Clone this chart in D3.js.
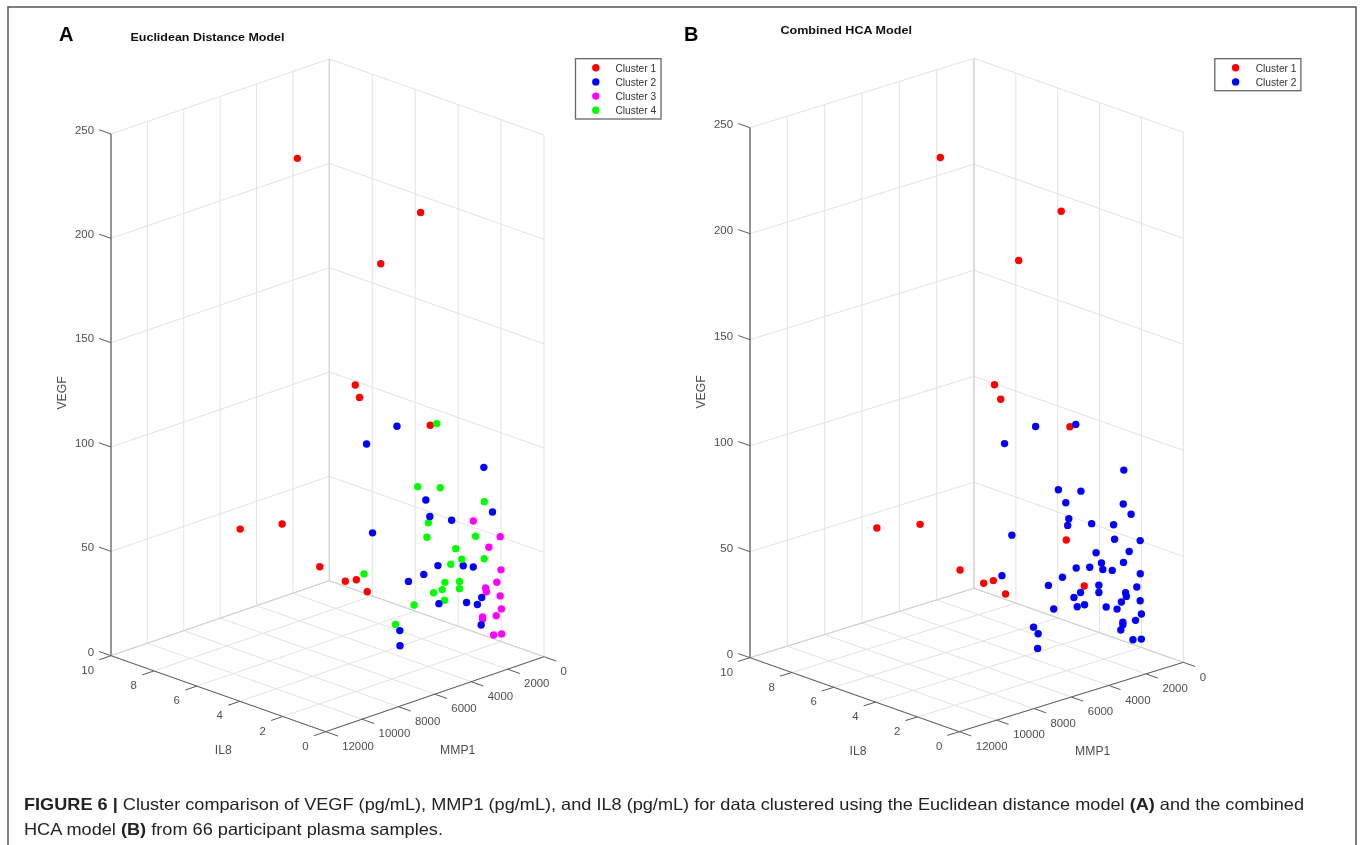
<!DOCTYPE html>
<html>
<head>
<meta charset="utf-8">
<script src="https://cdn.jsdelivr.net/npm/d3@7"></script>
<style>
html,body{margin:0;padding:0;background:#fff}
svg{display:block}
text{font-family:"Liberation Sans",Arial,sans-serif}
</style>
</head>
<body>
<svg id="chart" width="1362" height="845"></svg>
<script>
// ---- data: one row per participant sample (same 66 samples in both panels)
const mmp1 = [2700,1920,5880,5170,2920,2700,11000,8460,4950,6400,7540,5810,
  4660,6190,900,2460,2100,3420,1760,4610,3920,1810,2260,3940,2930,1310,3900,1720,1430,1330,4940,5650,
  3240,1960,1360,1960,3100,3140,2190,1300,1850,1600,2860,6260,2660,2270,3800,2270,1890,1960,3130,5410,
  830,460,410,1150,550,850,840,460,430,1280,580,580,1350,780];
const il8 = [9.2,4.12,2.62,4.41,6.12,3.01,4.83,5.03,6.25,3.83,2.35,3.31,
  2.9,3.02,2.04,3.42,0.62,2.42,2.81,4.08,1.62,2.23,1.38,2.26,3.83,1.79,1.59,2.15,1.89,1.8,2.53,1.92,
  2.25,4.22,3.68,1.12,2.76,2.79,1.33,3.01,2.26,1.43,1.92,3.08,2.36,2.01,1.52,2.01,3.54,2.97,3.4,2.33,
  2.59,1.65,2.22,1.03,1.73,2,1.97,1.65,1.62,1.14,2.37,2.37,1.2,1.31];
const vegf = [213.4,203.6,196.4,129.6,110.7,108,76.5,70.6,35.2,41.4,50.9,36.5,
  113.8,109.5,86,70,73.4,68.6,60.4,58.3,49.5,40.9,44.7,43,30.9,25.8,31.3,23.3,22.4,12.6,18.1,15.2,
  113.2,72,71.6,76.1,63.4,56.5,59.4,44.7,44,46.5,45.9,47.2,35,35.5,38,32.1,23.4,22.1,21.8,23.2,
  58.1,52.9,45.6,41.3,31,28.2,26.5,24.5,18.3,19.3,12.2,11,10.1,8.5];
const clusterA = [1,1,1,1,1,1,1,1,1,1,1,1,
  2,2,2,2,2,2,2,2,2,2,2,2,2,2,2,2,2,2,2,2,
  4,4,4,4,4,4,4,4,4,4,4,4,4,4,4,4,4,4,4,4,
  3,3,3,3,3,3,3,3,3,3,3,3,3,3];
const clusterB = [1,1,1,1,1,1,1,1,1,1,1,1,
  2,2,2,2,2,2,2,2,2,2,2,2,2,2,2,2,2,2,2,2,
  2,2,2,2,2,1,2,2,2,2,2,2,1,2,2,2,2,2,2,2,
  2,2,2,2,2,2,2,2,2,2,2,2,2,2];
const mmpTicks = [0,2000,4000,6000,8000,10000,12000];
const il8Ticks = [0,2,4,6,8,10];
const vegfTicks = [0,50,100,150,200,250];
const clusterColors = {1:"#ff0000",2:"#0000ff",3:"#ff00ff",4:"#00ff00"};

// ---- layout of each panel (pixel geometry of the 3-D box)
const panels = [
 {letter:"A",letterX:59,title:"Euclidean Distance Model",titleX:130.5,titleY:40.5,titleW:154,cluster:clusterA,legendN:[1,2,3,4],
  right:[544,656.7],bottom:[325.7,731.7],left:[111,655.7],h:521.7,
  lg:{x:575.5,y:58.7,w:85.5,h:60.3,mx:595.8,tx:615.4},il8Label:[223.3,753.5],mmpLabel:[457.7,753.5],vegfLabel:[62,393]},
 {letter:"B",letterX:684,title:"Combined HCA Model",titleX:780.4,titleY:33.7,titleW:131.5,cluster:clusterB,legendN:[1,2],
  right:[1183.3,662.3],bottom:[959.3,731.7],left:[750,657.7],h:530,
  lg:{x:1214.8,y:58.7,w:86.1,h:32,mx:1235.6,tx:1255.7},il8Label:[858,754.5],mmpLabel:[1092.7,755],vegfLabel:[701,392]}
];

const page = d3.select("#chart");
page.append("defs").append("filter").attr("id","soft")
  .attr("filterUnits","userSpaceOnUse").attr("x",0).attr("y",0).attr("width",1362).attr("height",845)
  .attr("color-interpolation-filters","sRGB")
  .append("feGaussianBlur").attr("stdDeviation",0.4);
const svg = page.append("g").attr("filter","url(#soft)");
svg.append("rect").attr("width",1362).attr("height",845).attr("fill","#fff");
const grid = "#e3e3e3", axisC = "#5a5a5a", textC = "#4f4f4f";

// outer frame
svg.append("path").attr("d","M8,850V7H1356V850").attr("fill","none").attr("stroke","#555").attr("stroke-width",1.5);

panels.forEach(p=>{
  const g = svg.append("g");
  const mX = d3.scaleLinear([0,12000],[0,p.bottom[0]-p.right[0]]);
  const mY = d3.scaleLinear([0,12000],[0,p.bottom[1]-p.right[1]]);
  const iX = d3.scaleLinear([0,10],[0,p.left[0]-p.bottom[0]]);
  const iY = d3.scaleLinear([0,10],[0,p.left[1]-p.bottom[1]]);
  const vY = d3.scaleLinear([0,250],[0,-p.h]);
  const pr = (m,i,v)=>[p.right[0]+mX(m)+iX(i), p.right[1]+mY(m)+iY(i)+vY(v)];
  const line = (a,b,c,w=1)=>g.append("line").attr("x1",a[0]).attr("y1",a[1]).attr("x2",b[0]).attr("y2",b[1]).attr("stroke",c).attr("stroke-width",w);
  const M=12000,I=10,V=250;

  // grid: floor and two back walls
  mmpTicks.forEach(m=>{
    line(pr(m,0,0),pr(m,I,0),grid);
    line(pr(m,I,0),pr(m,I,V),grid);
  });
  il8Ticks.forEach(i=>{
    line(pr(0,i,0),pr(M,i,0),grid);
    line(pr(0,i,0),pr(0,i,V),grid);
  });
  vegfTicks.forEach(v=>{
    line(pr(M,I,v),pr(0,I,v),grid);
    line(pr(0,I,v),pr(0,0,v),grid);
  });
  line(pr(0,I,0),pr(0,I,V),"#d0d0d0");
  line(pr(0,I,0),pr(M,I,0),"#d0d0d0");
  line(pr(0,I,0),pr(0,0,0),"#d0d0d0");

  // axes
  line(pr(M,0,0),pr(0,0,0),axisC);
  line(pr(M,0,0),pr(M,I,0),axisC);
  line(pr(M,I,0),pr(M,I,V),axisC,1.2);

  // ticks
  mmpTicks.forEach(m=>{ line(pr(m,0,0),pr(m,-0.57,0),axisC); });
  il8Ticks.forEach(i=>{ line(pr(M,i,0),pr(M+640,i,0),axisC); });
  vegfTicks.forEach(v=>{ line(pr(M,I,v),pr(M,I+0.56,v),axisC); });

  const txt = (x,y,s,anchor,size=11.4,fill=textC)=>g.append("text").attr("x",x).attr("y",y).attr("text-anchor",anchor).attr("font-size",size).attr("fill",fill).text(s);
  mmpTicks.forEach(m=>{ const q=pr(m,0,0); txt(q[0]+16.5,q[1]+18.2,m,"start"); });
  il8Ticks.forEach(i=>{ const q=pr(M,i,0); txt(q[0]-17,q[1]+18,i,"end"); });
  vegfTicks.forEach(v=>{ const q=pr(M,I,v); txt(q[0]-17,q[1]-0.2,v,"end"); });

  // axis titles
  txt(p.il8Label[0],p.il8Label[1],"IL8","middle",12.2);
  txt(p.mmpLabel[0],p.mmpLabel[1],"MMP1","middle",12.2);
  g.append("text").attr("transform",`translate(${p.vegfLabel[0]+4},${p.vegfLabel[1]}) rotate(-90)`).attr("text-anchor","middle").attr("font-size",12.2).attr("fill",textC).text("VEGF");

  // title and panel letter
  g.append("text").attr("x",p.titleX).attr("y",p.titleY).attr("font-size",11.5).attr("font-weight","bold").attr("fill","#111").attr("textLength",p.titleW).attr("lengthAdjust","spacingAndGlyphs").text(p.title);
  g.append("text").attr("x",p.letterX).attr("y",40.7).attr("font-size",20).attr("font-weight","bold").attr("fill","#000").text(p.letter);

  // points, far to near
  const rows = d3.range(mmp1.length).map(k=>({m:mmp1[k],i:il8[k],v:vegf[k],c:p.cluster[k]}))
    .sort((a,b)=>d3.ascending(a.m/M-a.i/I,b.m/M-b.i/I));
  g.append("g").selectAll("circle").data(rows).join("circle")
    .attr("cx",d=>pr(d.m,d.i,d.v)[0]).attr("cy",d=>pr(d.m,d.i,d.v)[1]).attr("r",3.7)
    .attr("fill",d=>clusterColors[d.c]);

  // legend
  const l=p.lg;
  g.append("rect").attr("x",l.x).attr("y",l.y).attr("width",l.w).attr("height",l.h).attr("fill","#fff").attr("stroke","#666").attr("stroke-width",1.3);
  const lg=g.append("g").selectAll("g").data(p.legendN).join("g");
  lg.append("circle").attr("cx",l.mx).attr("cy",(d,k)=>l.y+9+k*14.2).attr("r",3.7).attr("fill",d=>clusterColors[d]);
  lg.append("text").attr("x",l.tx).attr("y",(d,k)=>l.y+12.8+k*14.2).attr("font-size",10.2).attr("fill","#333").text(d=>"Cluster "+d);
});

// caption
const cap = svg.append("g").attr("fill","#222").attr("font-size",16.5);
const l1 = cap.append("text").attr("x",24).attr("y",810).attr("textLength",1280).attr("lengthAdjust","spacingAndGlyphs");
[["FIGURE 6 | ",1],["Cluster comparison of VEGF (pg/mL), MMP1 (pg/mL), and IL8 (pg/mL) for data clustered using the Euclidean distance model ",0],["(A)",1],[" and the combined",0]]
 .forEach(s=>l1.append("tspan").attr("font-weight",s[1]?"bold":"normal").text(s[0]));
const l2 = cap.append("text").attr("x",24).attr("y",835).attr("textLength",419).attr("lengthAdjust","spacingAndGlyphs");
[["HCA model ",0],["(B)",1],[" from 66 participant plasma samples.",0]]
 .forEach(s=>l2.append("tspan").attr("font-weight",s[1]?"bold":"normal").text(s[0]));
</script>
</body>
</html>
